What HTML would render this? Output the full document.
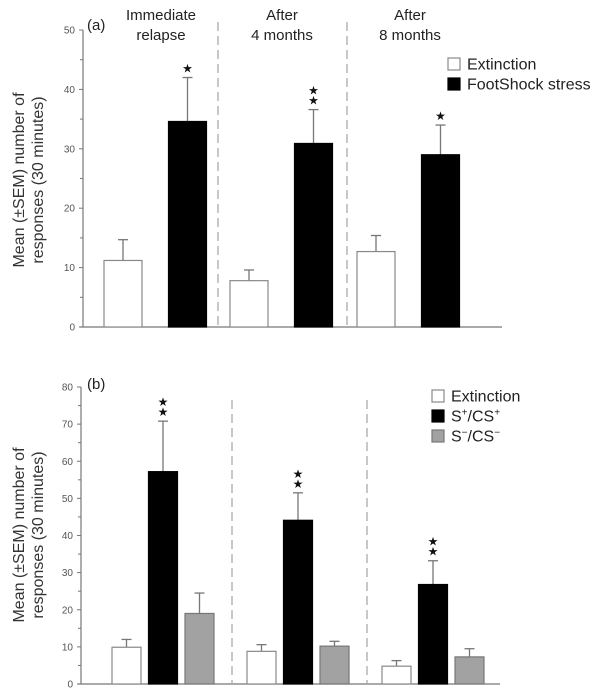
<!DOCTYPE html>
<html><head><meta charset="utf-8"><style>
html,body{margin:0;padding:0;background:#fff;}
svg{display:block;font-family:"Liberation Sans",Arial,sans-serif;}
</style></head><body>
<svg id="chart" width="612" height="697" viewBox="0 0 612 697" xmlns="http://www.w3.org/2000/svg"></svg>
<script>
// Panel (a) data
const aGroups = ["Immediate relapse", "After 4 months", "After 8 months"];
const aExt = [11.2, 7.8, 12.7];
const aExtErr = [3.5, 1.8, 2.7];
const aFS = [34.6, 30.9, 29.0];
const aFSErr = [7.4, 5.7, 5.0];
const aStars = [1, 2, 1];
const aTicks = [0, 10, 20, 30, 40, 50];
// Panel (b) data
const bExt = [9.9, 8.8, 4.8];
const bExtErr = [2.1, 1.8, 1.5];
const bSp = [57.2, 44.1, 26.8];
const bSpErr = [13.6, 7.4, 6.4];
const bSm = [19.0, 10.2, 7.3];
const bSmErr = [5.5, 1.3, 2.2];
const bStars = [2, 2, 2];
const bTicks = [0, 10, 20, 30, 40, 50, 60, 70, 80];

const NS = "http://www.w3.org/2000/svg";
const svg = document.getElementById("chart");
function el(tag, attrs, parent, text){
  const e = document.createElementNS(NS, tag);
  for (const k in attrs) e.setAttribute(k, attrs[k]);
  if (text !== undefined) e.textContent = text;
  (parent || svg).appendChild(e);
  return e;
}
const axisCol = "#777";

function drawPanel(cfg){
  const g = el("g", {});
  
  
  const y = v => cfg.y0 - (v / cfg.max) * (cfg.y0 - cfg.yTop);
  // axes
  const ya = el("line", {x1: cfg.ax, y1: cfg.y0, x2: cfg.ax, y2: cfg.yTop, stroke: axisCol, "stroke-width": 1.2}, g);
  
  
  const xa = el("line", {x1: cfg.ax - 3, y1: cfg.y0, x2: cfg.axEnd, y2: cfg.y0, stroke: axisCol, "stroke-width": 1.2}, g);
  
  
  const step = cfg.ticks[1] - cfg.ticks[0];
  cfg.ticks.forEach((t, i) => {
    el("line", {x1: cfg.ax - 4, y1: y(t), x2: cfg.ax, y2: y(t), stroke: axisCol, "stroke-width": 1}, g);
    if (i < cfg.ticks.length - 1) el("line", {x1: cfg.ax - 3, y1: y(t + step / 2), x2: cfg.ax, y2: y(t + step / 2), stroke: axisCol, "stroke-width": 1}, g);
    const tl = el("text", {x: cfg.ax - 8, y: y(t) + 3.5, "font-size": 10, fill: "#555", "text-anchor": "end"}, g, t);
    
    
  });
  // y title
  const yt = el("text", {transform: `translate(${cfg.titleX},${cfg.titleY}) rotate(-90)`, "font-size": 16, fill: "#333", "text-anchor": "middle"}, g);
  
  
  el("tspan", {x: 0, dy: 0}, yt, "Mean (\u00B1SEM) number of");
  el("tspan", {x: 0, dy: 19}, yt, "responses (30 minutes)");
  // dividers
  cfg.dividers.forEach(dx => {
    const d = el("line", {x1: dx, y1: cfg.divTop, x2: dx, y2: cfg.y0, stroke: "#aaa", "stroke-width": 1.3, "stroke-dasharray": "9,5"}, g);
    
    
  });
  // bars
  cfg.series.forEach((s, si) => {
    s.vals.forEach((v, gi) => {
      const x = cfg.groupStart[gi] + si * cfg.pitch;
      const top = y(v), errTop = y(v + s.err[gi]);
      const cx = x + cfg.bw / 2;
      const eb = el("line", {x1: cx, y1: top, x2: cx, y2: errTop, stroke: "#777", "stroke-width": 1.3}, g);
      
      
      el("line", {x1: cx - 5, y1: errTop, x2: cx + 5, y2: errTop, stroke: "#777", "stroke-width": 1.3}, g);
      const r = el("rect", {x: x, y: top, width: cfg.bw, height: cfg.y0 - top, fill: s.fill, stroke: s.stroke, "stroke-width": 1.2}, g);
      
      
      if (s.stars) {
        for (let k = 0; k < s.stars[gi]; k++) {
          const st = el("text", {x: cx, y: errTop - 5 - k * 10, "font-size": 12, "text-anchor": "middle", fill: "#111"}, g, "\u2605");
          
          
        }
      }
    });
  });
  return g;
}

const gA = drawPanel({name: "panel-a", ax: 83, axEnd: 502, y0: 327, yTop: 30, max: 50, ticks: aTicks,
  titleX: 24, titleY: 180, dividers: [218, 347], divTop: 22,
  groupStart: [104, 230, 357], pitch: 64.5, bw: 38,
  series: [
    {key: "extinction", vals: aExt, err: aExtErr, fill: "#fff", stroke: "#888"},
    {key: "footshock", vals: aFS, err: aFSErr, fill: "#000", stroke: "#000", stars: aStars}
  ]});
const gB = drawPanel({name: "panel-b", ax: 81, axEnd: 500, y0: 684, yTop: 387, max: 80, ticks: bTicks,
  titleX: 24, titleY: 535, dividers: [232, 367], divTop: 400,
  groupStart: [112, 247, 382], pitch: 36.5, bw: 29,
  series: [
    {key: "extinction", vals: bExt, err: bExtErr, fill: "#fff", stroke: "#888"},
    {key: "s-plus", vals: bSp, err: bSpErr, fill: "#000", stroke: "#000", stars: bStars},
    {key: "s-minus", vals: bSm, err: bSmErr, fill: "#a2a2a2", stroke: "#777"}
  ]});

// panel labels and group titles
function txt(name, attrs, content, parent){
  const t = el("text", attrs, parent, content);
  
  
  return t;
}
txt("panel-a-label", {x: 87, y: 30, "font-size": 15, fill: "#222"}, "(a)", gA);
txt("panel-b-label", {x: 87, y: 389, "font-size": 15, fill: "#222"}, "(b)", gB);
const gx = [161, 282, 410];
const gl1 = ["Immediate", "After", "After"];
const gl2 = ["relapse", "4 months", "8 months"];
gx.forEach((x, i) => {
  txt("group-title", {x: x, y: 20, "font-size": 15, fill: "#222", "text-anchor": "middle"}, gl1[i], gA);
  txt("group-title", {x: x, y: 40, "font-size": 15, fill: "#222", "text-anchor": "middle"}, gl2[i], gA);
});

// legends
function legend(name, x, ys, fills, strokes, labels, parent){
  const lg = el("g", {}, parent);
  
  
  ys.forEach((yy, i) => {
    const r = el("rect", {x: x, y: yy - 6, width: 12, height: 12, fill: fills[i], stroke: strokes[i], "stroke-width": 1.2}, lg);
    
    
    const t = el("text", {x: x + 19, y: yy + 5.5, "font-size": 16, fill: "#222"}, lg);
    
    
    labels[i].forEach(p => {
      if (p[1]) el("tspan", {"font-size": 10, dy: -6}, t, p[0]);
      else if (p[2]) el("tspan", {dy: 6}, t, p[0]);
      else el("tspan", {}, t, p[0]);
    });
  });
}
legend("legend-a", 448, [64, 84], ["#fff", "#000"], ["#888", "#000"],
  [[["Extinction"]], [["FootShock stress"]]], gA);
legend("legend-b", 432, [396, 416, 436], ["#fff", "#000", "#a2a2a2"], ["#888", "#000", "#777"],
  [[["Extinction"]], [["S"], ["+", 1], ["/CS", 0, 1], ["+", 1]], [["S"], ["\u2212", 1], ["/CS", 0, 1], ["\u2212", 1]]], gB);
</script>
</body></html>
